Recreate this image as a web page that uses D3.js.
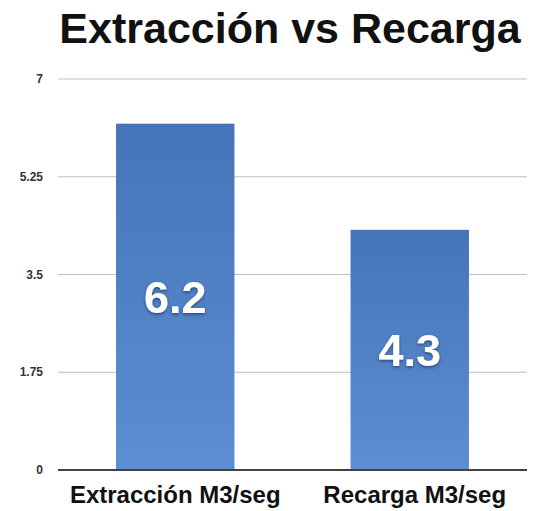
<!DOCTYPE html>
<html>
<head>
<meta charset="utf-8">
<script src="https://cdn.jsdelivr.net/npm/d3@7"></script>
<style>
  html, body { margin: 0; padding: 0; background: #ffffff; }
  svg { display: block; }
</style>
</head>
<body>
<svg id="chart" width="533" height="511"></svg>
<script>
const title = "Extracción vs Recarga";
const categories = ["Extracción M3/seg", "Recarga M3/seg"];
const values = [6.2, 4.3];
const valueLabels = ["6.2", "4.3"];
const tickValues = [0, 1.75, 3.5, 5.25, 7];
const tickLabels = ["0", "1.75", "3.5", "5.25", "7"];

const svg = d3.select("#chart");
const font = "'Liberation Sans', Arial, Helvetica, sans-serif";

const x = d3.scaleBand().domain(categories).range([58, 527])
  .paddingInner(0.495).paddingOuter(0.2475);
const y = d3.scaleLinear().domain([0, 7]).range([470, 79]);

const defs = svg.append("defs");
const grad = defs.append("linearGradient").attr("id", "barGrad")
  .attr("x1", 0).attr("y1", 0).attr("x2", 0).attr("y2", 1);
grad.append("stop").attr("offset", "0%").attr("stop-color", "#4674b8");
grad.append("stop").attr("offset", "100%").attr("stop-color", "#5b8fd2");

const shadow = defs.append("filter").attr("id", "txtShadow")
  .attr("x", "-20%").attr("y", "-20%").attr("width", "140%").attr("height", "140%");
shadow.append("feDropShadow").attr("dx", 0).attr("dy", 1.5).attr("stdDeviation", 1.5)
  .attr("flood-color", "#1a2f55").attr("flood-opacity", 0.7);

// Title
svg.append("text")
  .attr("x", 290).attr("y", 43)
  .attr("text-anchor", "middle")
  .attr("font-family", font).attr("font-weight", "bold")
  .attr("font-size", 43).attr("fill", "#111")
  .text(title);

// Gridlines
svg.append("g").selectAll("line")
  .data(tickValues.filter(d => d !== 0))
  .join("line")
  .attr("x1", 58).attr("x2", 527)
  .attr("y1", d => y(d)).attr("y2", d => y(d))
  .attr("stroke", "#c8bdb8").attr("stroke-width", 1.2);

// Tick labels
svg.append("g").selectAll("text")
  .data(tickValues)
  .join("text")
  .attr("x", 43).attr("y", d => y(d))
  .attr("dy", "0.35em")
  .attr("text-anchor", "end")
  .attr("font-family", font).attr("font-weight", "bold")
  .attr("font-size", 12).attr("fill", "#333")
  .text((d, i) => tickLabels[i]);

// Bars
svg.append("g").selectAll("rect")
  .data(values)
  .join("rect")
  .attr("x", (d, i) => x(categories[i]))
  .attr("width", x.bandwidth())
  .attr("y", d => y(d))
  .attr("height", d => y(0) - y(d))
  .attr("fill", "url(#barGrad)");

// Baseline
svg.append("line")
  .attr("x1", 58).attr("x2", 527)
  .attr("y1", y(0)).attr("y2", y(0))
  .attr("stroke", "#4a4040").attr("stroke-width", 2);

// Value labels
svg.append("g").selectAll("text")
  .data(values)
  .join("text")
  .attr("x", (d, i) => x(categories[i]) + x.bandwidth() / 2)
  .attr("y", d => (y(d) + y(0)) / 2)
  .attr("dy", "0.36em")
  .attr("text-anchor", "middle")
  .attr("font-family", font).attr("font-weight", "bold")
  .attr("font-size", 45).attr("fill", "#ffffff")
  .attr("filter", "url(#txtShadow)")
  .text((d, i) => valueLabels[i]);

// Category labels
svg.append("g").selectAll("text")
  .data(categories)
  .join("text")
  .attr("x", d => x(d) + x.bandwidth() / 2 + (d === categories[1] ? 5 : 0))
  .attr("y", 503)
  .attr("text-anchor", "middle")
  .attr("font-family", font).attr("font-weight", "bold")
  .attr("font-size", 24).attr("fill", "#111")
  .text(d => d);
</script>
</body>
</html>
